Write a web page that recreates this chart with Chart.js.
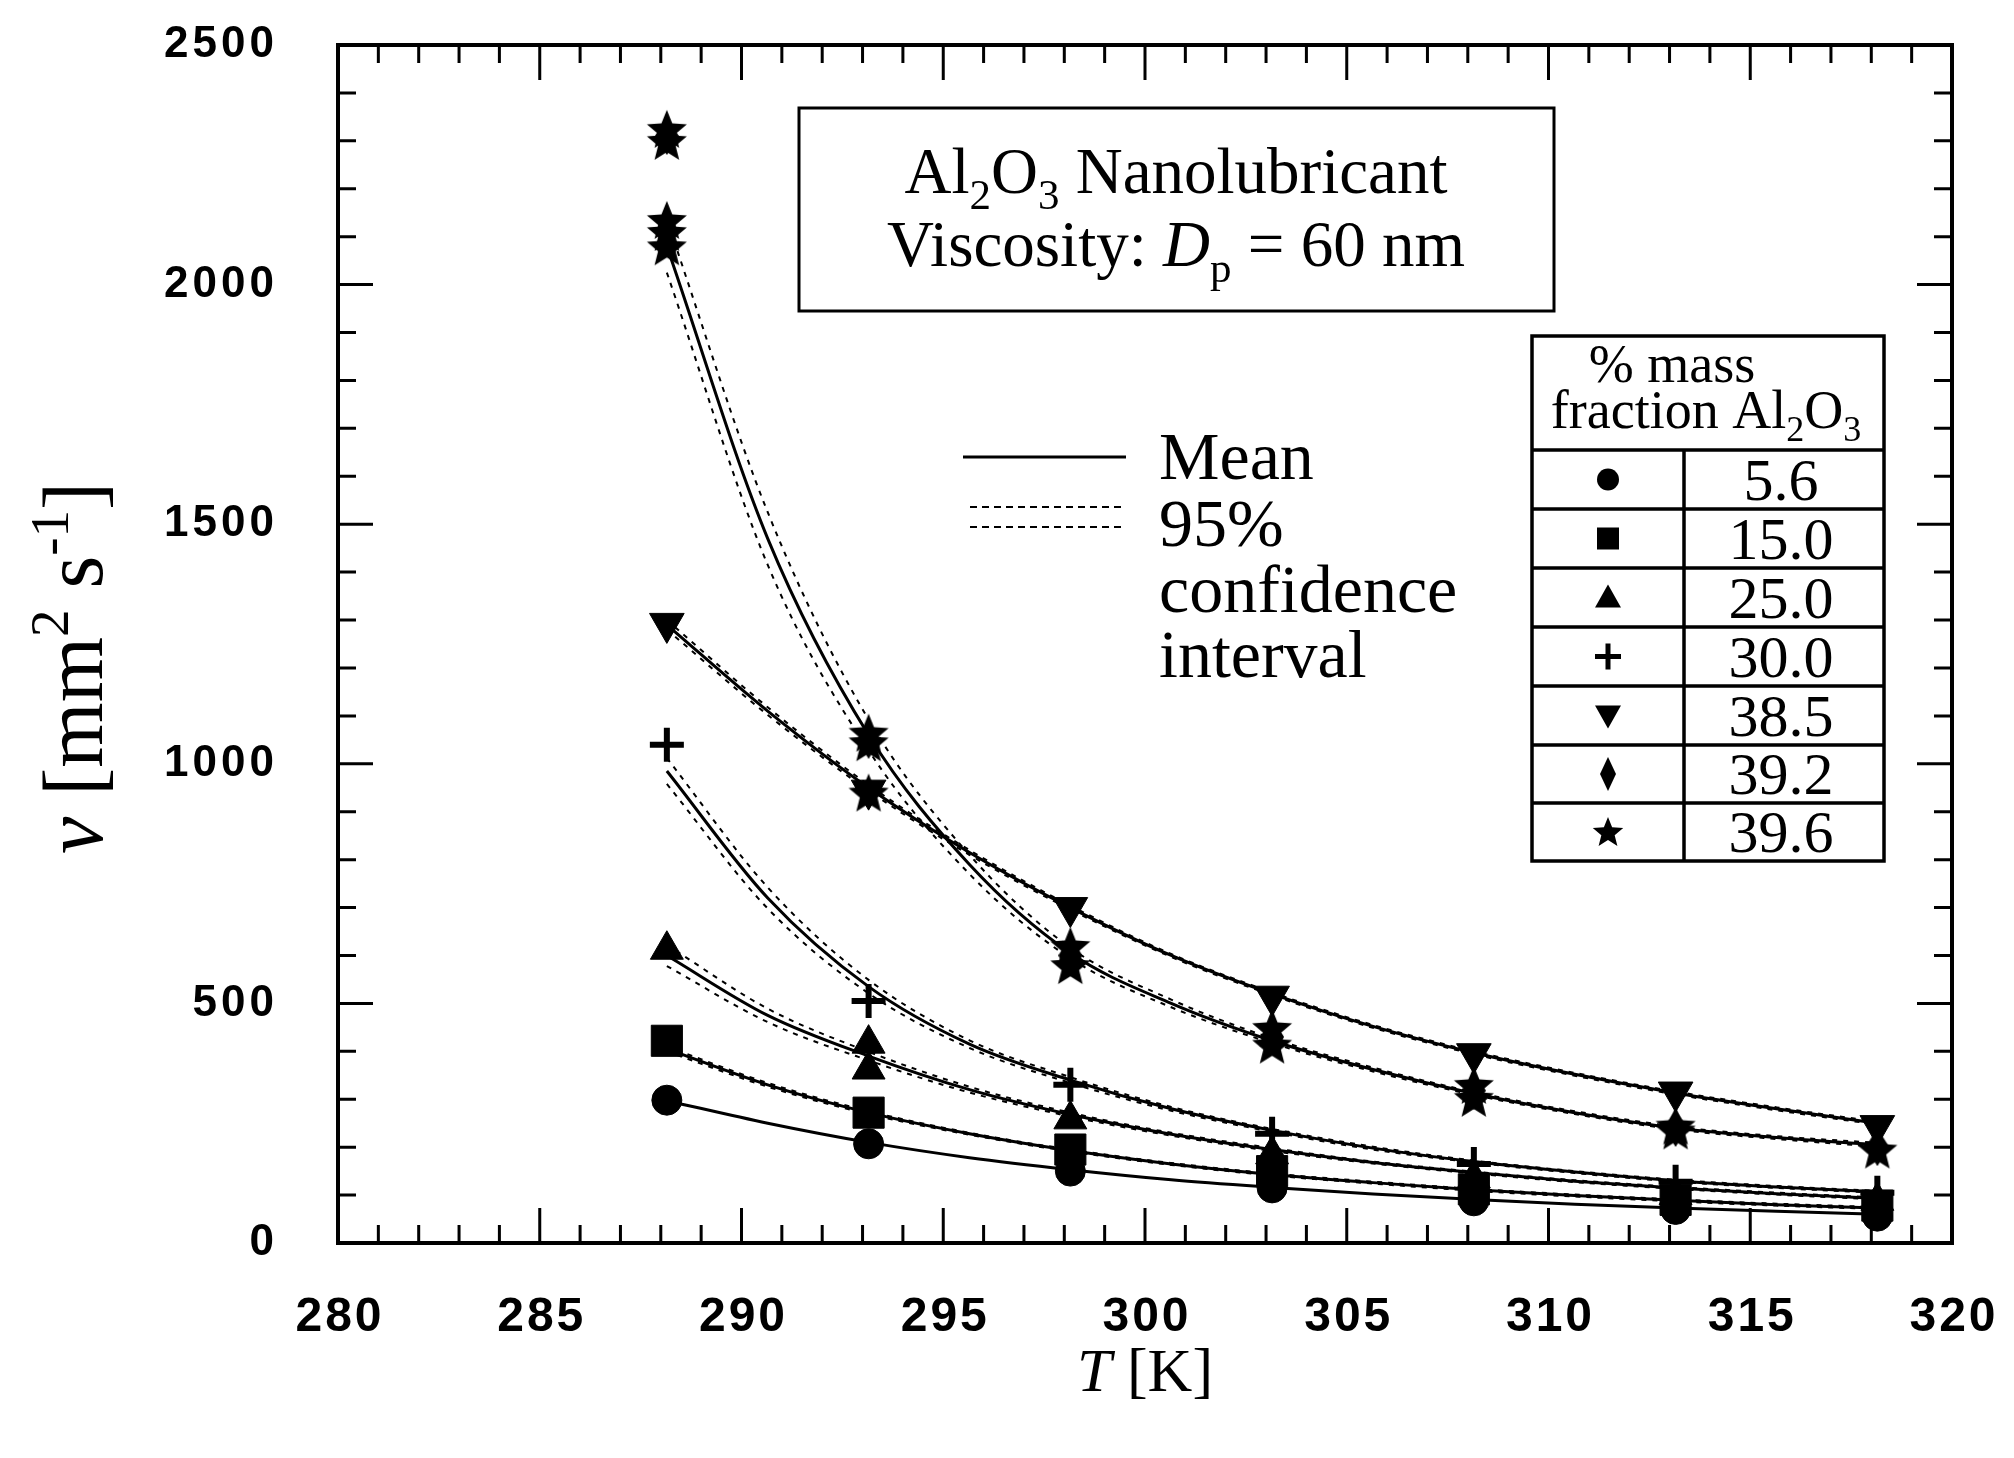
<!DOCTYPE html>
<html>
<head>
<meta charset="utf-8">
<script src="https://cdn.jsdelivr.net/npm/chart.js@4.4.1/dist/chart.umd.min.js"></script>
<style>
  html, body { margin: 0; padding: 0; background: #fff; }
  canvas { display: block; }
</style>
</head>
<body>
<canvas id="viscChart" width="2014" height="1458"></canvas>
<script>
// temperatures at which the fitted curves are read (K)
const fitT = [288.15, 290.65, 293.15, 295.65, 298.15, 300.65, 303.15, 305.65, 308.15, 310.65, 313.15, 315.65, 318.15];

// mean curves (mm2/s)
const fitCircle  = [297, 250, 210, 178, 153, 132, 116, 102, 91, 81, 73, 66, 60];
const fitSquare  = [405, 330, 272, 228, 193, 165, 143, 126, 111, 99, 89, 80, 73];
const fitTriUp   = [600, 475, 390, 320, 268, 227, 195, 168, 147, 129, 115, 103, 93];
const fitPlus    = [985, 720, 535, 415, 340, 280, 235, 198, 170, 148, 130, 117, 107];
const fitTriDown = [1290, 1110, 950, 815, 700, 600, 520, 452, 397, 352, 313, 280, 250];
const fitStar    = [2080, 1470, 1060, 790, 605, 500, 422, 362, 312, 272, 240, 220, 205];

// 95% confidence bands
const ciSquareHi  = [410, 334, 275, 230, 195, 167, 145, 128, 113, 101, 91, 82, 75];
const ciSquareLo  = [400, 326, 269, 226, 191, 163, 141, 124, 109, 97, 87, 78, 71];
const ciTriUpHi   = [622, 489, 399, 326, 272, 230, 198, 170, 149, 131, 117, 105, 95];
const ciTriUpLo   = [578, 461, 381, 314, 264, 224, 192, 166, 145, 127, 113, 101, 91];
const ciPlusHi    = [1012, 742, 549, 423, 346, 284, 238, 201, 172, 150, 132, 119, 109];
const ciPlusLo    = [958, 698, 521, 407, 334, 276, 232, 195, 168, 146, 128, 115, 105];
const ciTriDownHi = [1300, 1118, 956, 820, 704, 603, 523, 455, 400, 355, 316, 283, 253];
const ciTriDownLo = [1280, 1102, 944, 810, 696, 597, 517, 449, 394, 349, 310, 277, 247];
const ciStarHi    = [2135, 1525, 1092, 810, 616, 508, 427, 366, 315, 275, 243, 223, 209];
const ciStarLo    = [2025, 1415, 1028, 770, 594, 492, 417, 358, 309, 269, 237, 217, 201];

// measured points [T, nu]
const ptCircle  = [[288.15, 298], [293.15, 207], [298.15, 150], [303.15, 115], [308.15, 88], [313.15, 70], [318.15, 56]];
const ptSquare  = [[288.15, 422], [293.15, 272], [298.15, 195], [303.15, 150], [308.15, 112], [313.15, 90], [318.15, 78]];
const ptTriUp   = [[288.15, 612], [293.15, 416], [293.15, 362], [298.15, 258], [303.15, 185], [308.15, 135], [313.15, 100], [318.15, 88]];
const ptPlus    = [[288.15, 1040], [293.15, 505], [298.15, 330], [303.15, 228], [308.15, 165], [313.15, 128], [318.15, 105]];
const ptTriDown = [[288.15, 1293], [293.15, 945], [298.15, 700], [303.15, 515], [308.15, 395], [313.15, 315], [318.15, 245]];
const ptDiamond = [[288.15, 2310], [293.15, 1050], [298.15, 600], [303.15, 430], [308.15, 318], [313.15, 240], [318.15, 200]];
const ptStar    = [[288.15, 2325], [288.15, 2300], [288.15, 2135], [288.15, 2110], [288.15, 2080],
                   [293.15, 1065], [293.15, 1045], [293.15, 940], [298.15, 620], [298.15, 580],
                   [303.15, 449], [303.15, 414], [308.15, 330], [308.15, 303], [313.15, 245], [313.15, 235], [318.15, 195]];

// axis tick labels
const xLabels = [280, 285, 290, 295, 300, 305, 310, 315, 320];
const yLabels = [0, 500, 1000, 1500, 2000, 2500];

// legend table
const massFractions = ['5.6', '15.0', '25.0', '30.0', '38.5', '39.2', '39.6'];
const symbolNames = ['circle', 'square', 'triUp', 'plus', 'triDown', 'diamond', 'star'];

// --- marker shapes ---
function drawStar(g, cx, cy, R, r) {
    g.beginPath();
    for (let i = 0; i < 10; i++) {
        const rad = i % 2 ? r : R;
        const a = -Math.PI / 2 + i * Math.PI / 5;
        g.lineTo(cx + rad * Math.cos(a), cy + rad * Math.sin(a));
    }
    g.closePath();
    g.fill();
}

function drawDiamond(g, cx, cy, w, h) {
    g.beginPath();
    g.moveTo(cx, cy - h / 2);
    g.lineTo(cx + w / 2, cy);
    g.lineTo(cx, cy + h / 2);
    g.lineTo(cx - w / 2, cy);
    g.closePath();
    g.fill();
}

function makeStar(size) {
    const c = document.createElement('canvas');
    c.width = size; c.height = size;
    const g = c.getContext('2d');
    g.fillStyle = '#000';
    drawStar(g, size / 2, size / 2 + size * 0.05, size / 2, size * 0.22);
    return c;
}

function makeDiamond(w, h) {
    const c = document.createElement('canvas');
    c.width = w; c.height = h;
    const g = c.getContext('2d');
    g.fillStyle = '#000';
    drawDiamond(g, w / 2, h / 2, w, h);
    return c;
}

const starImg = makeStar(42);
const diamondImg = makeDiamond(24, 38);

const toXY = (ys) => fitT.map((t, i) => ({ x: t, y: ys[i] }));
const ptsXY = (pts) => pts.map(([x, y]) => ({ x: x, y: y }));

function meanLine(ys) {
    return { data: toXY(ys), borderColor: '#000', borderWidth: 3, pointRadius: 0,
             cubicInterpolationMode: 'monotone', fill: false, order: 2 };
}
function ciLine(ys) {
    return { data: toXY(ys), borderColor: '#000', borderWidth: 2, borderDash: [5, 6], pointRadius: 0,
             cubicInterpolationMode: 'monotone', fill: false, order: 3 };
}
function points(pts, style, radius, extra) {
    return Object.assign({ data: ptsXY(pts), showLine: false, pointStyle: style, pointRadius: radius,
             backgroundColor: '#000', borderColor: '#000', borderWidth: 1, order: 1 }, extra || {});
}

// --- text helper with sub/superscripts ---
const serif = '"Liberation Serif", "DejaVu Serif", serif';
function rich(ctx, parts, x, y, size, align) {
    const fontFor = (m) => (m === 'i' ? 'italic ' : '') +
        ((m === 'sub' || m === 'sup') ? Math.round(size * 0.66) : size) + 'px ' + serif;
    let w = 0;
    parts.forEach(([t, m]) => { ctx.font = fontFor(m); w += ctx.measureText(t).width; });
    let cx = align === 'center' ? x - w / 2 : x;
    ctx.textAlign = 'left';
    ctx.textBaseline = 'alphabetic';
    parts.forEach(([t, m]) => {
        ctx.font = fontFor(m);
        const dy = m === 'sub' ? size * 0.24 : (m === 'sup' ? -size * 0.4 : 0);
        ctx.fillText(t, cx, y + dy);
        cx += ctx.measureText(t).width;
    });
}

function drawSymbol(ctx, name, x, y) {
    ctx.fillStyle = '#000';
    ctx.strokeStyle = '#000';
    if (name === 'circle') {
        ctx.beginPath(); ctx.arc(x, y, 11, 0, Math.PI * 2); ctx.fill();
    } else if (name === 'square') {
        ctx.fillRect(x - 11, y - 11, 22, 22);
    } else if (name === 'triUp') {
        ctx.beginPath(); ctx.moveTo(x, y - 13); ctx.lineTo(x + 13, y + 10); ctx.lineTo(x - 13, y + 10); ctx.closePath(); ctx.fill();
    } else if (name === 'triDown') {
        ctx.beginPath(); ctx.moveTo(x, y + 13); ctx.lineTo(x + 13, y - 10); ctx.lineTo(x - 13, y - 10); ctx.closePath(); ctx.fill();
    } else if (name === 'plus') {
        ctx.fillRect(x - 13, y - 2.5, 26, 5); ctx.fillRect(x - 2.5, y - 13, 5, 26);
    } else if (name === 'diamond') {
        drawDiamond(ctx, x, y, 16, 34);
    } else if (name === 'star') {
        drawStar(ctx, x, y + 1, 16, 7);
    }
}

const decor = {
    id: 'decor',
    afterDraw(chart) {
        const ctx = chart.ctx;
        const xs = chart.scales.x, ys = chart.scales.y;
        const { left: L, right: R, top: T, bottom: B } = chart.chartArea;
        ctx.save();
        ctx.strokeStyle = '#000';
        ctx.fillStyle = '#000';

        // frame
        ctx.lineWidth = 4;
        ctx.strokeRect(L, T, R - L, B - T);

        // inward ticks on all four sides
        ctx.lineWidth = 3;
        ctx.beginPath();
        for (let v = 100; v < 2500; v += 100) {
            const y = ys.getPixelForValue(v);
            const len = v % 500 === 0 ? 35 : 18;
            ctx.moveTo(L, y); ctx.lineTo(L + len, y);
            ctx.moveTo(R, y); ctx.lineTo(R - len, y);
        }
        for (let t = 281; t < 320; t++) {
            const x = xs.getPixelForValue(t);
            const len = t % 5 === 0 ? 35 : 18;
            ctx.moveTo(x, B); ctx.lineTo(x, B - len);
            ctx.moveTo(x, T); ctx.lineTo(x, T + len);
        }
        ctx.stroke();

        // tick labels
        ctx.font = 'bold 44px "Liberation Sans", Arial, sans-serif';
        ctx.letterSpacing = '4px';
        ctx.textBaseline = 'middle';
        ctx.textAlign = 'right';
        yLabels.forEach(v => ctx.fillText(String(v), 278, ys.getPixelForValue(v)));
        ctx.font = 'bold 48px "Liberation Sans", Arial, sans-serif';
        ctx.letterSpacing = '3px';
        ctx.textAlign = 'center';
        xLabels.forEach(v => ctx.fillText(String(v), xs.getPixelForValue(v) + 2, 1318));
        ctx.letterSpacing = '0px';

        // axis titles
        rich(ctx, [['T', 'i'], [' [K]', '']], 1145, 1391, 62, 'center');
        ctx.save();
        ctx.translate(102, 668);
        ctx.rotate(-Math.PI / 2);
        rich(ctx, [['\u03BD', 'i'], [' [mm', ''], ['2', 'sup'], [' s', ''], ['-1', 'sup'], [']', '']], 0, 0, 84, 'center');
        ctx.restore();

        // title box
        ctx.lineWidth = 3;
        ctx.strokeRect(799, 108, 755, 203);
        rich(ctx, [['Al', ''], ['2', 'sub'], ['O', ''], ['3', 'sub'], [' Nanolubricant', '']], 1176, 193, 65, 'center');
        rich(ctx, [['Viscosity: ', ''], ['D', 'i'], ['p', 'sub'], [' = 60 nm', '']], 1176, 266, 65, 'center');

        // mean / CI key
        ctx.lineWidth = 3;
        ctx.beginPath(); ctx.moveTo(963, 457); ctx.lineTo(1126, 457); ctx.stroke();
        ctx.lineWidth = 2;
        ctx.setLineDash([7, 5]);
        ctx.beginPath();
        ctx.moveTo(970, 507); ctx.lineTo(1126, 507);
        ctx.moveTo(970, 527); ctx.lineTo(1126, 527);
        ctx.stroke();
        ctx.setLineDash([]);
        rich(ctx, [['Mean', '']], 1159, 479, 68, 'left');
        rich(ctx, [['95%', '']], 1159, 546, 68, 'left');
        rich(ctx, [['confidence', '']], 1159, 612, 68, 'left');
        rich(ctx, [['interval', '']], 1159, 677, 68, 'left');

        // symbol table
        const tx0 = 1532, tx1 = 1884, txMid = 1684;
        const rowTops = [450, 509, 568, 627, 686, 745, 803, 861];
        ctx.lineWidth = 3.5;
        ctx.strokeRect(tx0, 336, tx1 - tx0, 861 - 336);
        ctx.beginPath();
        rowTops.slice(0, -1).forEach(y => { ctx.moveTo(tx0, y); ctx.lineTo(tx1, y); });
        ctx.moveTo(txMid, 450); ctx.lineTo(txMid, 861);
        ctx.stroke();
        rich(ctx, [['% mass', '']], 1672, 382, 54, 'center');
        rich(ctx, [['fraction Al', ''], ['2', 'sub'], ['O', ''], ['3', 'sub']], 1706, 428, 54, 'center');
        massFractions.forEach((label, i) => {
            const yc = (rowTops[i] + rowTops[i + 1]) / 2;
            drawSymbol(ctx, symbolNames[i], 1608, yc);
            rich(ctx, [[label, '']], 1781, yc + 20, 60, 'center');
        });

        ctx.restore();
    }
};

const ctx = document.getElementById('viscChart').getContext('2d');
const chart = new Chart(ctx, {
    type: 'line',
    data: {
        datasets: [
            meanLine(fitCircle), meanLine(fitSquare), meanLine(fitTriUp),
            meanLine(fitPlus), meanLine(fitTriDown), meanLine(fitStar),
            ciLine(ciSquareHi), ciLine(ciSquareLo), ciLine(ciTriUpHi), ciLine(ciTriUpLo),
            ciLine(ciPlusHi), ciLine(ciPlusLo), ciLine(ciTriDownHi), ciLine(ciTriDownLo),
            ciLine(ciStarHi), ciLine(ciStarLo),
            points(ptCircle, 'circle', 15),
            points(ptSquare, 'rect', 22),
            points(ptTriUp, 'triangle', 19),
            points(ptPlus, 'cross', 17, { borderWidth: 6 }),
            points(ptTriDown, 'triangle', 20, { pointRotation: 180 }),
            points(ptDiamond, diamondImg, 12),
            points(ptStar, starImg, 21)
        ]
    },
    options: {
        responsive: false,
        animation: false,
        devicePixelRatio: 1,
        layout: { padding: { left: 338, right: 62, top: 45, bottom: 215 } },
        scales: {
            x: { type: 'linear', min: 280, max: 320, display: false },
            y: { type: 'linear', min: 0, max: 2500, display: false }
        },
        plugins: { legend: { display: false }, tooltip: { enabled: false } }
    },
    plugins: [decor]
});
</script>
</body>
</html>
